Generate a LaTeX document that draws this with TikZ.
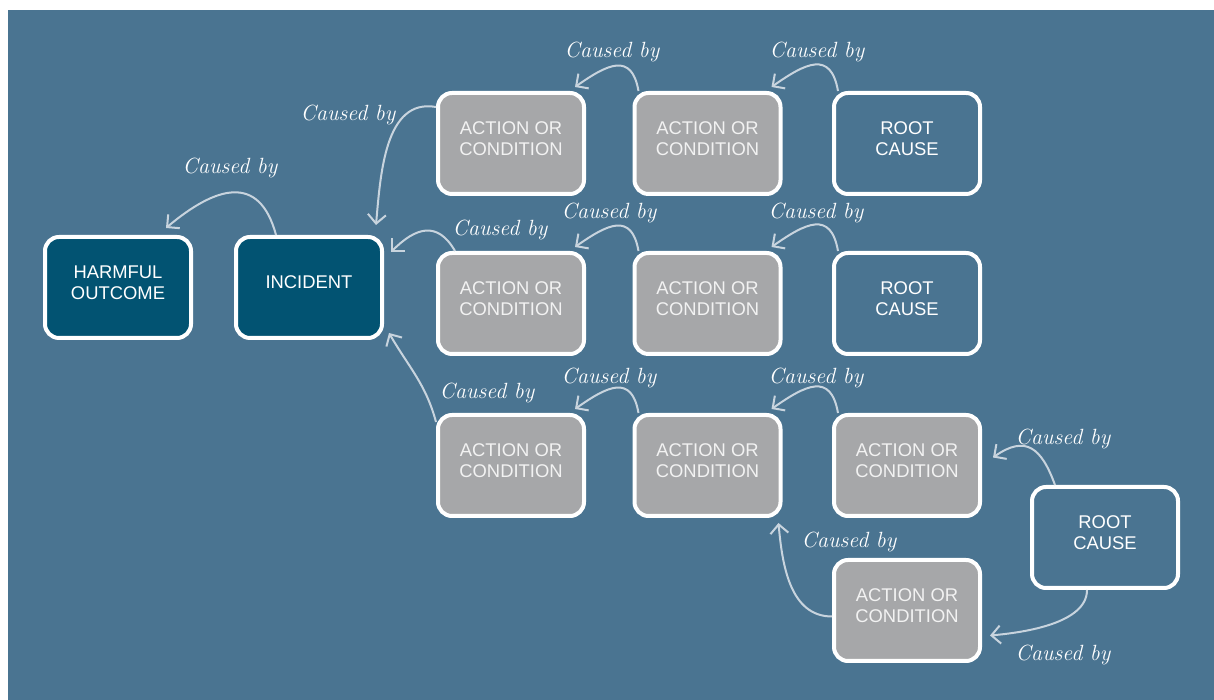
\documentclass[tikz,border=0pt]{standalone}
\usepackage{xcolor}
\usepackage{fontspec}
\usepackage{tikz}
\usetikzlibrary{arrows.meta, positioning, shapes}
\newfontfamily\boxfont{Liberation Sans}
\definecolor{steelbg}{RGB}{74,116,145}
\definecolor{darkteal}{RGB}{2,83,114}
\definecolor{boxgray}{RGB}{166,167,169}
\definecolor{linkgray}{RGB}{200,212,222}

\begin{document}
\begin{tikzpicture}[x=0.5pt, y=0.5pt,
	causebox/.style={draw=white, line width=2pt, rounded corners=7pt, minimum width=73pt, minimum height=50.5pt, align=center, text=white, font=\boxfont\fontsize{9.2}{10.3}\selectfont, execute at end node={\rule[-5pt]{0pt}{5pt}}},
	eventbox/.style={causebox, fill=darkteal},
	factorbox/.style={causebox, fill=boxgray, text=white!95!black},
	rootbox/.style={causebox, fill=steelbg},
	linkarrow/.style={draw=linkgray, line width=1pt, -{Straight Barb[length=4.5pt,width=9pt]}},
	causedby/.style={text=white, font=\itshape\fontsize{11}{12}\selectfont}]
				%% page and background
				\fill[white] (0,0) rectangle (1214,700);
				\useasboundingbox (0,0) rectangle (1214,700);
				\fill[steelbg] (8,0) rectangle (1214,690);
				
				\node[eventbox] (harm) at (118,412.5) {HARMFUL\\OUTCOME};
				\node[eventbox] (incident) at (309,412.5) {INCIDENT};
				
				\node[factorbox] (ac11) at (511,556.5) {ACTION OR\\CONDITION};
				\node[factorbox] (ac12) at (707.5,556.5) {ACTION OR\\CONDITION};
				\node[rootbox] (root1) at (907,556.5) {ROOT\\CAUSE};
				
				\node[factorbox] (ac21) at (511,396.5) {ACTION OR\\CONDITION};
				\node[factorbox] (ac22) at (707.5,396.5) {ACTION OR\\CONDITION};
				\node[rootbox] (root2) at (907,396.5) {ROOT\\CAUSE};
				
				\node[factorbox] (ac31) at (511,234.5) {ACTION OR\\CONDITION};
				\node[factorbox] (ac32) at (707.5,234.5) {ACTION OR\\CONDITION};
				\node[factorbox] (ac33) at (907,234.5) {ACTION OR\\CONDITION};
				\node[rootbox] (root3) at (1105,162.5) {ROOT\\CAUSE};
				\node[factorbox] (ac43) at (907,89.5) {ACTION OR\\CONDITION};
				
				%% arrows
				\draw[linkarrow] ([xshift=21pt]incident.north west) to[out=105, in=40, looseness=1.5] ([xshift=-13.5pt,yshift=3.5pt]harm.north east);
				\draw[linkarrow] ([yshift=-8pt]ac11.north west) to[out=170, in=85] ([xshift=-4pt,yshift=5pt]incident.north east);
				\draw[linkarrow] ([xshift=9.5pt]ac21.north west) to[out=120, in=45, looseness=1.4] ([xshift=3.5pt,yshift=-8.5pt]incident.north east);
				\draw[linkarrow] ([yshift=-4.5pt]ac31.north west) to[out=105, in=-60] ([xshift=2.5pt,yshift=3.5pt]incident.south east);
				\foreach \a/\b in {ac12/ac11, root1/ac12, ac22/ac21, root2/ac22, ac32/ac31, ac33/ac32}
					\draw[linkarrow] ([xshift=3pt]\a.north west) to[out=100, in=35, looseness=1.6] ([xshift=-5.5pt,yshift=2pt]\b.north east);
				\draw[linkarrow] ([xshift=12.5pt]root3.north west) to[out=110, in=35, looseness=1.5] ([xshift=5.5pt,yshift=4pt]ac33.east);
				\draw[linkarrow] ([xshift=-9pt]root3.south) to[out=-90, in=5, looseness=0.8] ([xshift=4pt,yshift=-12.5pt]ac43.east);
				\draw[linkarrow] ([yshift=-3pt]ac43.west) to[out=180, in=-85] ([xshift=-2pt,yshift=-2.5pt]ac32.south east);
				
				%% labels
				\node[causedby] (l1) at (230,532) {Caused by};
				\node[causedby] (l2) at (348,585) {Caused by};
				\node[causedby] (l3) at (500,470) {Caused by};
				\node[causedby] (l4) at (487,307) {Caused by};
				\node[causedby] (l5) at (612,648) {Caused by};
				\node[causedby] (l6) at (817,648) {Caused by};
				\node[causedby] (l7) at (609,487) {Caused by};
				\node[causedby] (l8) at (816,487) {Caused by};
				\node[causedby] (l9) at (609,322) {Caused by};
				\node[causedby] (l10) at (816,322) {Caused by};
				\node[causedby] (l11) at (1063,261) {Caused by};
				\node[causedby] (l12) at (1063,45) {Caused by};
				\node[causedby] (l13) at (849,158) {Caused by};
\end{tikzpicture}
\end{document}
